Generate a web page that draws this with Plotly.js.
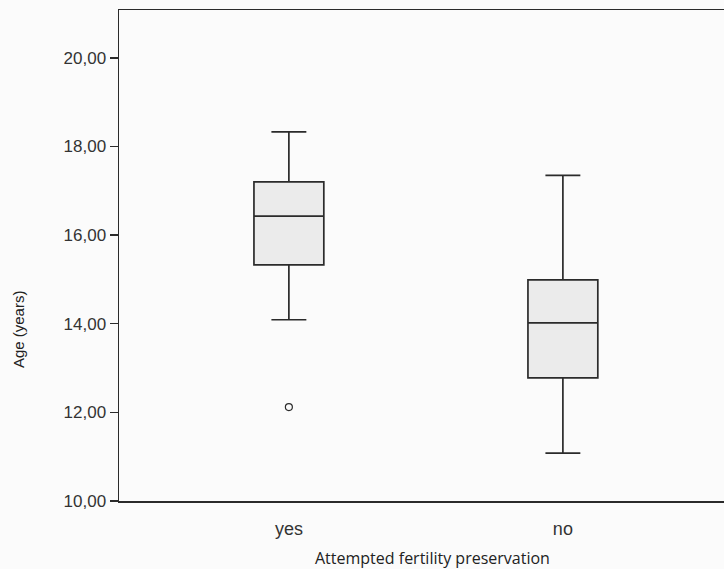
<!DOCTYPE html>
<html>
<head>
<meta charset="utf-8">
<script src="https://cdn.plot.ly/plotly-3.0.1.min.js"></script>
<style>html,body{margin:0;padding:0;background:#fbfbfb;}#chart{width:724px;height:569px;}</style>
</head>
<body>
<div id="chart"></div>
<script>
const categories = ['yes', 'no'];
const lowerWhisker = [14.09, 11.08];
const q1 = [15.33, 12.78];
const median = [16.43, 14.02];
const q3 = [17.20, 14.99];
const upperWhisker = [18.33, 17.35];
const outlierCats = ['yes'];
const outlierVals = [12.12];
const yTicks = [10, 12, 14, 16, 18, 20];

const lineCol = '#2b2b2b';
const traces = [
  {
    type: 'box',
    x: categories,
    q1: q1,
    median: median,
    q3: q3,
    lowerfence: lowerWhisker,
    upperfence: upperWhisker,
    fillcolor: '#ebebeb',
    line: {color: lineCol, width: 1.7},
    whiskerwidth: 0.5,
    width: 0.255,
    boxpoints: false,
    hoverinfo: 'skip',
    showlegend: false
  },
  {
    type: 'scatter',
    mode: 'markers',
    x: outlierCats,
    y: outlierVals,
    marker: {symbol: 'circle-open', size: 7, color: lineCol, line: {width: 1.2, color: lineCol}},
    showlegend: false,
    hoverinfo: 'skip'
  }
];

const layout = {
  width: 724,
  height: 569,
  margin: {l: 119, r: 0, t: 10, b: 68},
  paper_bgcolor: '#fbfbfb',
  plot_bgcolor: '#fbfbfb',
  separators: ',.',
  showlegend: false,
  xaxis: {
    type: 'category',
    categoryorder: 'array',
    categoryarray: categories,
    range: [-0.62, 1.588],
    showline: true,
    linecolor: lineCol,
    linewidth: 1.5,
    mirror: true,
    showgrid: false,
    zeroline: false,
    ticks: '',
    ticklabelstandoff: 11,
    tickfont: {family: 'Liberation Sans, Arial, sans-serif', size: 18, color: '#333'}
  },
  yaxis: {
    range: [10, 21.08],
    tickvals: yTicks,
    tickformat: '.2f',
    showline: true,
    linecolor: lineCol,
    linewidth: 1.5,
    showgrid: false,
    zeroline: false,
    ticks: 'outside',
    ticklen: 8,
    tickwidth: 1.3,
    tickcolor: lineCol,
    ticklabelstandoff: 0,
    tickfont: {family: 'Liberation Sans, Arial, sans-serif', size: 17, color: '#333'}
  },
  annotations: [
    {
      text: 'Age (years)',
      xref: 'paper', yref: 'paper',
      x: -0.167, y: 0.35,
      xanchor: 'center', yanchor: 'middle',
      textangle: -90,
      showarrow: false,
      font: {family: 'Liberation Sans, Arial, sans-serif', size: 15, color: '#222'}
    },
    {
      text: 'Attempted fertility preservation',
      xref: 'paper', yref: 'paper',
      x: 0.3207, y: -0.116,
      xanchor: 'left', yanchor: 'middle',
      showarrow: false,
      font: {family: 'Open Sans, sans-serif', size: 16, color: '#222'}
    }
  ]
};

Plotly.newPlot('chart', traces, layout, {staticPlot: true, displayModeBar: false});
</script>
</body>
</html>
